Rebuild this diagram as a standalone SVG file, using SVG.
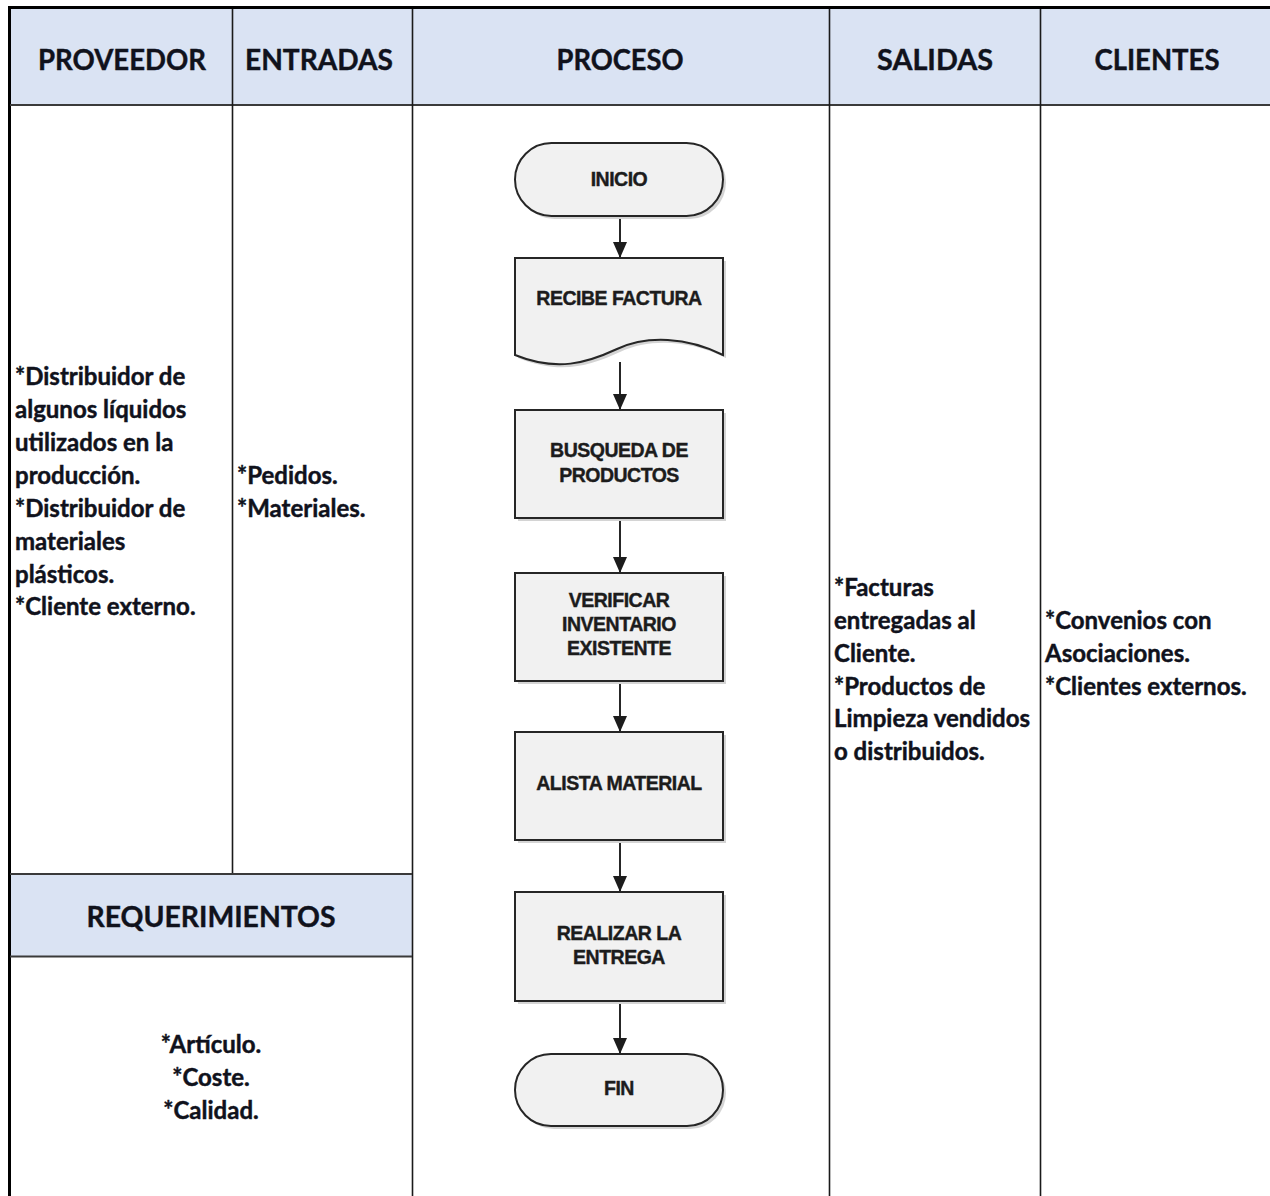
<svg xmlns="http://www.w3.org/2000/svg" width="1270" height="1196" viewBox="0 0 1270 1196">
  <style>
    .hdr { font-family: Lato, "Liberation Sans", sans-serif; font-weight: 700; font-size: 29px; fill: #10121c; text-anchor: middle; stroke: #10121c; stroke-width: 0.4px; }
    .body { font-family: Lato, "Liberation Sans", sans-serif; font-weight: 700; font-size: 24px; fill: #10121c; stroke: #10121c; stroke-width: 0.45px; }
    .mid { text-anchor: middle; }
    .grid { stroke: #1a1a1a; stroke-width: 1.6; fill: none; }
    .band { fill: #dae3f3; }
    .shape { fill: #f1f1f1; stroke: #262626; stroke-width: 2; }
    .shadow { fill: #d4d4d4; }
    .lbl { font-family: "Liberation Sans", Arial, sans-serif; font-weight: 700; font-size: 19.5px; fill: #1c1c1c; text-anchor: middle; letter-spacing: -0.5px; stroke: #1c1c1c; stroke-width: 0.4px; }
    .conn { stroke: #262626; stroke-width: 2; fill: none; }
  </style>
  <defs>
    <marker id="arrow" viewBox="0 0 16 14" refX="16" refY="7" markerWidth="16" markerHeight="14" markerUnits="userSpaceOnUse" orient="auto">
      <path d="M0,0 L16,7 L0,14 Z" fill="#1c1c1c"/>
    </marker>
  </defs>

  <rect x="0" y="0" width="1270" height="1196" fill="#ffffff"/>

  <!-- table background bands and rules -->
  <g id="table">
    <rect class="band" x="10" y="8" width="1260" height="97"/>
    <rect class="band" x="10" y="874" width="402" height="82"/>
    <!-- outer frame -->
    <line x1="8" y1="7.5" x2="1270" y2="7.5" stroke="#000" stroke-width="3"/>
    <line x1="9.5" y1="6" x2="9.5" y2="1196" stroke="#000" stroke-width="3"/>
    <!-- header underline -->
    <line x1="10" y1="105" x2="1270" y2="105" stroke="#3a3a3a" stroke-width="2"/>
    <!-- column rules -->
    <line class="grid" x1="232.5" y1="9" x2="232.5" y2="874"/>
    <line class="grid" x1="412.5" y1="9" x2="412.5" y2="1196" stroke-width="2"/>
    <line class="grid" x1="829.5" y1="9" x2="829.5" y2="1196" stroke-width="2"/>
    <line class="grid" x1="1040.5" y1="9" x2="1040.5" y2="1196" stroke-width="2"/>
    <!-- requirements band -->
    <line x1="10" y1="874" x2="412" y2="874" stroke="#3a3a3a" stroke-width="2"/>
    <line x1="10" y1="956.5" x2="412" y2="956.5" stroke="#3a3a3a" stroke-width="2"/>
  </g>

  <!-- column headings -->
  <g id="headers">
    <text class="hdr" x="122" y="70" textLength="168" lengthAdjust="spacingAndGlyphs">PROVEEDOR</text>
    <text class="hdr" x="319" y="70" textLength="148" lengthAdjust="spacingAndGlyphs">ENTRADAS</text>
    <text class="hdr" x="620" y="70" textLength="127" lengthAdjust="spacingAndGlyphs">PROCESO</text>
    <text class="hdr" x="935" y="70" textLength="116" lengthAdjust="spacingAndGlyphs">SALIDAS</text>
    <text class="hdr" x="1157" y="70" textLength="125" lengthAdjust="spacingAndGlyphs">CLIENTES</text>
    <text class="hdr" x="211" y="927" textLength="249" lengthAdjust="spacingAndGlyphs">REQUERIMIENTOS</text>
  </g>

  <!-- supplier column -->
  <g id="proveedor">
    <text class="body" x="15" y="385">*Distribuidor de</text>
    <text class="body" x="15" y="418">algunos líquidos</text>
    <text class="body" x="15" y="451">utilizados en la</text>
    <text class="body" x="15" y="484">producción.</text>
    <text class="body" x="15" y="517">*Distribuidor de</text>
    <text class="body" x="15" y="550">materiales</text>
    <text class="body" x="15" y="583">plásticos.</text>
    <text class="body" x="15" y="615">*Cliente externo.</text>
  </g>

  <!-- inputs column -->
  <g id="entradas">
    <text class="body" x="237" y="484">*Pedidos.</text>
    <text class="body" x="237" y="517">*Materiales.</text>
  </g>

  <!-- outputs column -->
  <g id="salidas">
    <text class="body" x="834" y="596">*Facturas</text>
    <text class="body" x="834" y="629">entregadas al</text>
    <text class="body" x="834" y="662">Cliente.</text>
    <text class="body" x="834" y="695">*Productos de</text>
    <text class="body" x="834" y="727">Limpieza vendidos</text>
    <text class="body" x="834" y="760">o distribuidos.</text>
  </g>

  <!-- customers column -->
  <g id="clientes">
    <text class="body" x="1045" y="629">*Convenios con</text>
    <text class="body" x="1045" y="662">Asociaciones.</text>
    <text class="body" x="1045" y="695">*Clientes externos.</text>
  </g>

  <!-- requirements -->
  <g id="requerimientos">
    <text class="body mid" x="211" y="1053">*Artículo.</text>
    <text class="body mid" x="211" y="1086">*Coste.</text>
    <text class="body mid" x="211" y="1119">*Calidad.</text>
  </g>

  <!-- process flow connectors -->
  <g id="connectors">
    <line class="conn" x1="620" y1="216" x2="620" y2="258" marker-end="url(#arrow)"/>
    <line class="conn" x1="620" y1="362" x2="620" y2="410" marker-end="url(#arrow)"/>
    <line class="conn" x1="620" y1="518" x2="620" y2="573" marker-end="url(#arrow)"/>
    <line class="conn" x1="620" y1="681" x2="620" y2="732" marker-end="url(#arrow)"/>
    <line class="conn" x1="620" y1="840" x2="620" y2="892" marker-end="url(#arrow)"/>
    <line class="conn" x1="620" y1="1001" x2="620" y2="1054" marker-end="url(#arrow)"/>
  </g>

  <!-- process flow nodes -->
  <g id="inicio">
    <rect class="shadow" x="518" y="146" width="208" height="73" rx="36.5"/>
    <rect class="shape" x="515" y="143" width="208" height="73" rx="36.5"/>
    <text class="lbl" x="619" y="186">INICIO</text>
  </g>

  <g id="recibe-factura">
    <path class="shadow" d="M518,261 H726 V358 C690,340 650,338 620,352 C590,366 560,375 518,358 Z"/>
    <path class="shape" d="M515,258 H723 V355 C687,337 647,335 617,349 C587,363 557,372 515,355 Z"/>
    <text class="lbl" x="619" y="305">RECIBE FACTURA</text>
  </g>

  <g id="busqueda">
    <rect class="shadow" x="518" y="413" width="208" height="108"/>
    <rect class="shape" x="515" y="410" width="208" height="108"/>
    <text class="lbl" x="619" y="457">BUSQUEDA DE</text>
    <text class="lbl" x="619" y="482">PRODUCTOS</text>
  </g>

  <g id="verificar">
    <rect class="shadow" x="518" y="576" width="208" height="108"/>
    <rect class="shape" x="515" y="573" width="208" height="108"/>
    <text class="lbl" x="619" y="607">VERIFICAR</text>
    <text class="lbl" x="619" y="631">INVENTARIO</text>
    <text class="lbl" x="619" y="655">EXISTENTE</text>
  </g>

  <g id="alista">
    <rect class="shadow" x="518" y="735" width="208" height="108"/>
    <rect class="shape" x="515" y="732" width="208" height="108"/>
    <text class="lbl" x="619" y="790">ALISTA MATERIAL</text>
  </g>

  <g id="entrega">
    <rect class="shadow" x="518" y="895" width="208" height="109"/>
    <rect class="shape" x="515" y="892" width="208" height="109"/>
    <text class="lbl" x="619" y="940">REALIZAR LA</text>
    <text class="lbl" x="619" y="964">ENTREGA</text>
  </g>

  <g id="fin">
    <rect class="shadow" x="518" y="1057" width="208" height="72" rx="36"/>
    <rect class="shape" x="515" y="1054" width="208" height="72" rx="36"/>
    <text class="lbl" x="619" y="1095">FIN</text>
  </g>
</svg>
